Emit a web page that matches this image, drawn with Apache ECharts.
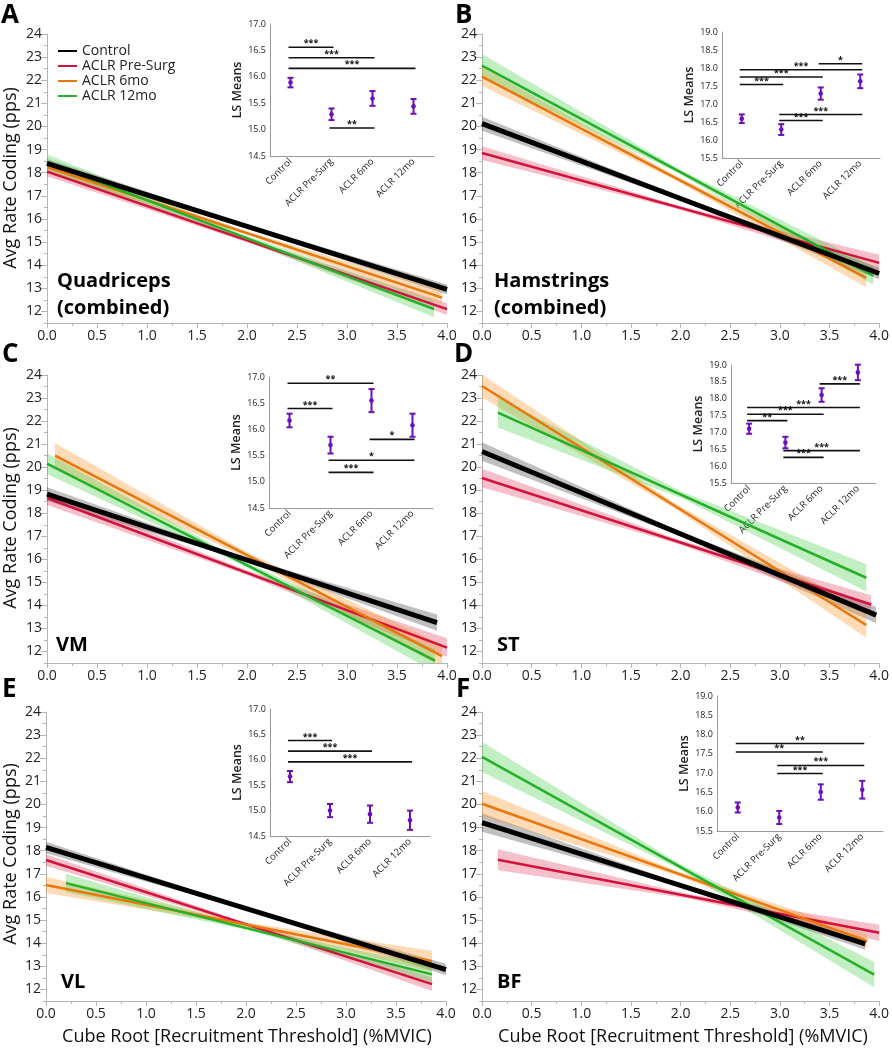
<!DOCTYPE html>
<html><head><meta charset="utf-8">
<script src="https://cdn.jsdelivr.net/npm/echarts@6/dist/echarts.min.js"></script>
<style>html,body{margin:0;padding:0;background:#fff}#c{width:892px;height:1050px}</style>
</head><body><div id="c"></div>
<script>
// ---------- DATA ----------
const groups = ['Control', 'ACLR Pre-Surg', 'ACLR 6mo', 'ACLR 12mo'];
const yTicks = [12, 13, 14, 15, 16, 17, 18, 19, 20, 21, 22, 23, 24];

// regression fits: [xStart, yStart, xEnd, yEnd] per group (Control, Pre-Surg, 6mo, 12mo)
const quadFits = [[0, 18.40, 4.00, 12.95], [0, 18.05, 4.00, 12.10], [0, 18.25, 3.95, 12.60], [0, 18.45, 3.87, 12.10]];
const hamFits  = [[0, 20.12, 4.00, 13.64], [0, 18.85, 4.00, 14.10], [0, 22.16, 3.87, 13.45], [0, 22.63, 3.94, 13.55]];
const vmFits   = [[0, 18.83, 3.90, 13.25], [0, 18.66, 4.00, 12.17], [0.08, 20.50, 3.95, 11.80], [0, 20.15, 3.88, 11.60]];
const stFits   = [[0, 20.68, 3.97, 13.58], [0, 19.53, 3.92, 14.04], [0, 23.52, 3.87, 13.15], [0.16, 22.37, 3.87, 15.20]];
const vlFits   = [[0, 18.14, 4.00, 12.86], [0, 17.60, 3.86, 12.23], [0, 16.52, 3.86, 13.22], [0.20, 16.60, 3.86, 12.65]];
const bfFits   = [[0, 19.22, 3.86, 13.97], [0.16, 17.61, 4.00, 14.45], [0, 20.03, 3.88, 14.09], [0, 22.06, 3.95, 12.64]];

// confidence band half-widths: [atStart, atMiddle, atEnd]
const quadBands = [[0.20, 0.08, 0.22], [0.20, 0.08, 0.25], [0.25, 0.08, 0.30], [0.35, 0.10, 0.35]];
const hamBands  = [[0.30, 0.08, 0.25], [0.30, 0.08, 0.35], [0.40, 0.10, 0.40], [0.50, 0.10, 0.40]];
const vmBands   = [[0.30, 0.08, 0.35], [0.30, 0.10, 0.40], [0.55, 0.12, 0.50], [0.45, 0.10, 0.50]];
const stBands   = [[0.40, 0.10, 0.35], [0.40, 0.10, 0.40], [0.50, 0.12, 0.55], [0.65, 0.15, 0.60]];
const vlBands   = [[0.25, 0.06, 0.25], [0.25, 0.07, 0.30], [0.35, 0.08, 0.45], [0.40, 0.08, 0.35]];
const bfBands   = [[0.40, 0.08, 0.25], [0.45, 0.10, 0.35], [0.55, 0.10, 0.30], [0.65, 0.12, 0.55]];

// inset LS means and error half-lengths
const quadMeans = [15.89, 15.29, 15.59, 15.44]; const quadErr = [0.09, 0.11, 0.14, 0.14];
const hamMeans  = [16.59, 16.29, 17.29, 17.63]; const hamErr  = [0.12, 0.15, 0.17, 0.19];
const vmMeans   = [16.17, 15.70, 16.55, 16.08]; const vmErr   = [0.13, 0.16, 0.22, 0.22];
const stMeans   = [17.11, 16.70, 18.11, 18.78]; const stErr   = [0.15, 0.17, 0.20, 0.23];
const vlMeans   = [15.67, 15.00, 14.93, 14.81]; const vlErr   = [0.11, 0.13, 0.17, 0.19];
const bfMeans   = [16.11, 15.85, 16.51, 16.57]; const bfErr   = [0.13, 0.17, 0.20, 0.23];

// significance bars: [fromGroup, toGroup, level, stars]
const quadSig = [[0, 1, 16.56, '***'], [0, 2, 16.36, '***'], [0, 3, 16.16, '***'], [1, 2, 15.03, '**']];
const hamSig  = [[0, 1, 17.54, '***'], [0, 2, 17.75, '***'], [0, 3, 17.95, '***'], [2, 3, 18.12, '*'], [1, 2, 16.54, '***'], [1, 3, 16.71, '***']];
const vmSig   = [[0, 2, 16.88, '**'], [0, 1, 16.40, '***'], [2, 3, 15.81, '*'], [1, 3, 15.41, '*'], [1, 2, 15.18, '***']];
const stSig   = [[2, 3, 18.44, '***'], [0, 3, 17.74, '***'], [0, 2, 17.54, '***'], [0, 1, 17.35, '**'], [1, 3, 16.46, '***'], [1, 2, 16.26, '***']];
const vlSig   = [[0, 1, 16.38, '***'], [0, 2, 16.17, '***'], [0, 3, 15.96, '***']];
const bfSig   = [[0, 3, 17.77, '**'], [0, 2, 17.55, '**'], [1, 3, 17.20, '***'], [1, 2, 16.99, '***']];

// ---------- STYLE / LAYOUT ----------
const FONT = 'Open Sans';
const lineColors = ['#000000', '#d2123c', '#e8770c', '#25b02a'];
const bandColors = ['rgba(0,0,0,0.25)', 'rgba(225,45,80,0.30)', 'rgba(252,150,50,0.35)', 'rgba(70,205,70,0.33)'];
const lineWidths = [5, 2.5, 2.5, 2.5];
const errColor = '#6a10b8';

const panels = [
  {letter: 'A', fits: quadFits, bands: quadBands, means: quadMeans, err: quadErr, sig: quadSig, ls: [14.5, 17],
   label: ['Quadriceps', '(combined)'], grid: {left: 47, top: 34, width: 400, height: 289},
   inset: {left: 270, top: 24, width: 164, height: 132}, lp: [57, 281], letterPos: [1, 16]},
  {letter: 'B', fits: hamFits, bands: hamBands, means: hamMeans, err: hamErr, sig: hamSig, ls: [15.5, 19],
   label: ['Hamstrings', '(combined)'], grid: {left: 482, top: 34, width: 400, height: 289},
   inset: {left: 722, top: 32, width: 158, height: 126}, lp: [494, 281], letterPos: [455, 16]},
  {letter: 'C', fits: vmFits, bands: vmBands, means: vmMeans, err: vmErr, sig: vmSig, ls: [14.5, 17],
   label: ['VM'], grid: {left: 47, top: 375, width: 400, height: 288},
   inset: {left: 269, top: 377, width: 164, height: 131}, lp: [56, 645], letterPos: [2, 355]},
  {letter: 'D', fits: stFits, bands: stBands, means: stMeans, err: stErr, sig: stSig, ls: [15.5, 19],
   label: ['ST'], grid: {left: 482, top: 375, width: 400, height: 288},
   inset: {left: 731, top: 365, width: 145, height: 118}, lp: [497, 645], letterPos: [454, 355]},
  {letter: 'E', fits: vlFits, bands: vlBands, means: vlMeans, err: vlErr, sig: vlSig, ls: [14.5, 17],
   label: ['VL'], grid: {left: 46, top: 712, width: 400, height: 289},
   inset: {left: 270, top: 709, width: 160, height: 127}, lp: [61, 982], letterPos: [2, 690]},
  {letter: 'F', fits: bfFits, bands: bfBands, means: bfMeans, err: bfErr, sig: bfSig, ls: [15.5, 19],
   label: ['BF'], grid: {left: 482, top: 712, width: 400, height: 289},
   inset: {left: 717, top: 696, width: 166, height: 135}, lp: [497, 982], letterPos: [456, 690]}
];

// ---------- RENDER HELPERS ----------
function renderBand(params, api) {
  const x0 = api.value(0), y0 = api.value(1), x1 = api.value(2), y1 = api.value(3);
  const w0 = api.value(4), wm = api.value(5), w1 = api.value(6), gi = api.value(7);
  const xm = (x0 + x1) / 2, ym = (y0 + y1) / 2;
  const pts = [
    api.coord([x0, y0 + w0]), api.coord([xm, ym + wm]), api.coord([x1, y1 + w1]),
    api.coord([x1, y1 - w1]), api.coord([xm, ym - wm]), api.coord([x0, y0 - w0])
  ];
  return {type: 'polygon', shape: {points: pts}, style: {fill: bandColors[gi]}};
}
function renderErr(params, api) {
  const i = api.value(0), m = api.value(1), e = api.value(2);
  const t = api.coord([i, m + e]), b = api.coord([i, m - e]), c = api.coord([i, m]);
  const st = {stroke: errColor, lineWidth: 2};
  return {type: 'group', children: [
    {type: 'line', shape: {x1: t[0], y1: t[1], x2: b[0], y2: b[1]}, style: st},
    {type: 'line', shape: {x1: t[0] - 3, y1: t[1], x2: t[0] + 3, y2: t[1]}, style: st},
    {type: 'line', shape: {x1: b[0] - 3, y1: b[1], x2: b[0] + 3, y2: b[1]}, style: st},
    {type: 'circle', shape: {cx: c[0], cy: c[1], r: 2.3}, style: {fill: errColor}}
  ]};
}
function makeSig(rows) {
  return function (params, api) {
    const a = api.coord([api.value(0), api.value(2)]);
    const b = api.coord([api.value(1), api.value(2)]);
    return {type: 'group', children: [
      {type: 'line', shape: {x1: a[0] - 2, y1: a[1], x2: b[0] + 2, y2: b[1]}, style: {stroke: '#111', lineWidth: 1.6}},
      {type: 'text', style: {text: rows[params.dataIndex][3], x: (a[0] + b[0]) / 2, y: a[1] + 1,
        align: 'center', verticalAlign: 'bottom', fontSize: 9, fontWeight: 'bold', fontFamily: FONT, fill: '#111'}}
    ]};
  };
}

// ---------- BUILD OPTION ----------
const grid = [], xAxis = [], yAxis = [], series = [], graphic = [];
const axisGray = '#b5b5b5';

panels.forEach((p) => { grid.push(Object.assign({containLabel: false}, p.grid)); });
panels.forEach((p) => { grid.push(Object.assign({containLabel: false}, p.inset)); });

// main x axes (0-5)
panels.forEach((p, k) => {
  xAxis.push({type: 'value', gridIndex: k, min: 0, max: 4, interval: 0.5, position: 'bottom',
    axisLine: {show: true, lineStyle: {color: axisGray, width: 1}},
    axisTick: {show: true, length: 5, lineStyle: {color: axisGray}},
    minorTick: {show: true, splitNumber: 2, length: 3, lineStyle: {color: axisGray}},
    splitLine: {show: false},
    axisLabel: {formatter: v => v.toFixed(1), fontSize: 14, color: '#222', fontFamily: FONT, margin: 6}
  });
});
// inset x axes (6-11)
panels.forEach((p, k) => {
  xAxis.push({type: 'category', gridIndex: 6 + k, data: groups, boundaryGap: true, position: 'bottom',
    axisLine: {show: true, lineStyle: {color: '#9a9a9a', width: 1}},
    axisTick: {show: false},
    axisLabel: {rotate: 45, interval: 0, fontSize: 9.5, color: '#222', fontFamily: FONT, margin: 4}
  });
});
// main y axes (0-5): line + minor ticks
panels.forEach((p, k) => {
  yAxis.push({type: 'value', gridIndex: k, min: 11.5, max: 24, interval: 0.5, position: 'left', offset: 0,
    axisLine: {show: true, lineStyle: {color: axisGray, width: 1}},
    axisTick: {show: true, length: 3, lineStyle: {color: axisGray}},
    splitLine: {show: false}, axisLabel: {show: false}
  });
});
// main y axes overlay (6-11): major ticks + labels
panels.forEach((p, k) => {
  yAxis.push({type: 'value', gridIndex: k, min: 11.5, max: 24, position: 'left', offset: 0,
    axisLine: {show: false},
    axisTick: {show: true, length: 6, customValues: yTicks, lineStyle: {color: axisGray}},
    splitLine: {show: false},
    axisLabel: {show: true, customValues: yTicks, fontSize: 14, color: '#222', fontFamily: FONT, margin: 5}
  });
});
// inset y axes (12-17)
panels.forEach((p, k) => {
  yAxis.push({type: 'value', gridIndex: 6 + k, min: p.ls[0], max: p.ls[1], interval: 0.5, position: 'left',
    name: 'LS Means', nameLocation: 'middle', nameGap: 24, nameRotate: 90,
    nameTextStyle: {fontSize: 12.5, color: '#222', fontFamily: FONT, fontWeight: 600},
    axisLine: {show: true, lineStyle: {color: '#9a9a9a', width: 1}},
    axisTick: {show: false}, splitLine: {show: false},
    axisLabel: {formatter: v => v.toFixed(1), fontSize: 9, color: '#222', fontFamily: FONT, margin: 4}
  });
});

panels.forEach((p, k) => {
  series.push({type: 'custom', xAxisIndex: k, yAxisIndex: k, clip: true, z: 2, silent: true,
    renderItem: renderBand,
    data: p.fits.map((f, g) => [f[0], f[1], f[2], f[3], p.bands[g][0], p.bands[g][1], p.bands[g][2], g])
  });
  [1, 2, 3, 0].forEach(g => {
    const f = p.fits[g];
    series.push({type: 'line', name: groups[g], xAxisIndex: k, yAxisIndex: k, z: g === 0 ? 5 : 4,
      symbol: 'none', showSymbol: false, clip: true, animation: false,
      lineStyle: {color: lineColors[g], width: lineWidths[g]}, itemStyle: {color: lineColors[g]},
      data: [[f[0], f[1]], [f[2], f[3]]]
    });
  });
  series.push({type: 'custom', xAxisIndex: 6 + k, yAxisIndex: 12 + k, z: 6, silent: true,
    renderItem: makeSig(p.sig), data: p.sig.map(r => [r[0], r[1], r[2]])});
  series.push({type: 'custom', xAxisIndex: 6 + k, yAxisIndex: 12 + k, z: 7, silent: true,
    renderItem: renderErr, data: p.means.map((m, i) => [i, m, p.err[i]])});

  graphic.push({type: 'text', x: p.letterPos[0], y: p.letterPos[1],
    style: {text: p.letter, fontSize: 26, fontWeight: 'bold', fontFamily: FONT, fill: '#000', verticalAlign: 'middle', align: 'left'}});
  p.label.forEach((t, j) => {
    graphic.push({type: 'text', x: p.lp[0], y: p.lp[1] + j * 27,
      style: {text: t, fontSize: 20, fontWeight: 'bold', fontFamily: FONT, fill: '#000', verticalAlign: 'middle', align: 'left'}});
  });
});

[178, 518, 854].forEach(cy => {
  graphic.push({type: 'text', x: 11, y: cy, rotation: Math.PI / 2,
    style: {text: 'Avg Rate Coding (pps)', fontSize: 18, fontFamily: FONT, fill: '#111', align: 'center', verticalAlign: 'middle'}});
});
[247, 683].forEach(cx => {
  graphic.push({type: 'text', x: cx, y: 1037,
    style: {text: 'Cube Root [Recruitment Threshold] (%MVIC)', fontSize: 18, fontFamily: FONT, fill: '#111', align: 'center', verticalAlign: 'middle'}});
});

const option = {
  animation: false,
  backgroundColor: '#ffffff',
  textStyle: {fontFamily: FONT},
  legend: {data: groups, orient: 'vertical', left: 52, top: 39, itemWidth: 19, itemHeight: 14, itemGap: 1,
    itemStyle: {opacity: 0},
    textStyle: {fontSize: 14, color: '#222', fontFamily: FONT}, selectedMode: false},
  grid, xAxis, yAxis, series, graphic
};

const chart = echarts.init(document.getElementById('c'), null, {renderer: 'canvas', width: 892, height: 1050});
chart.setOption(option);
</script>
</body></html>
